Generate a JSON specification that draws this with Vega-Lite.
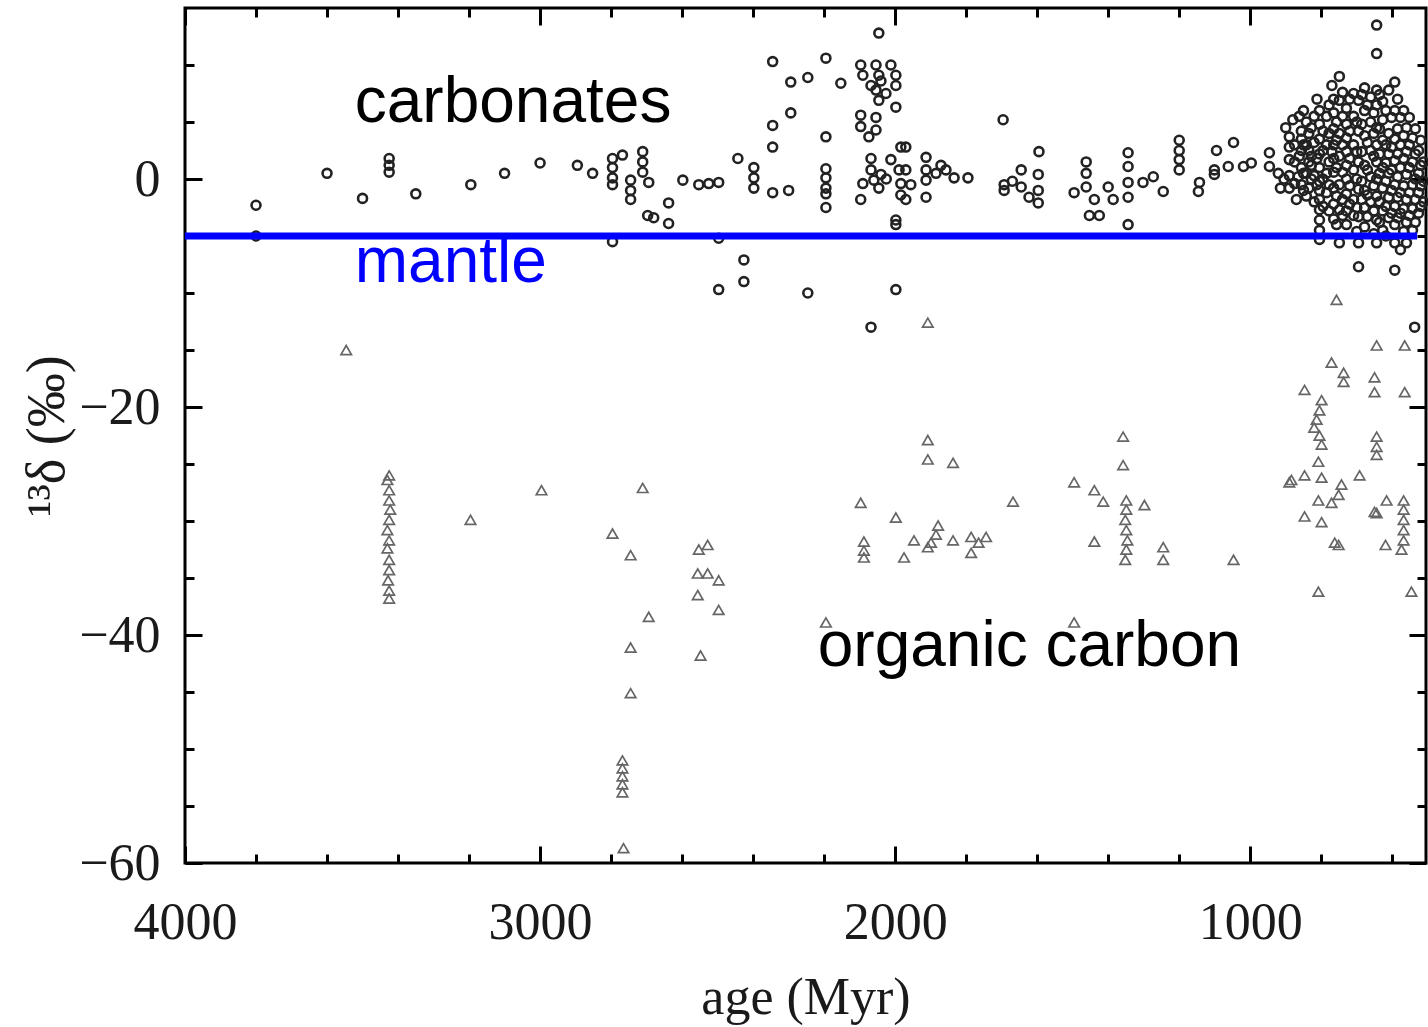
{
  "$schema": "https://vega.github.io/schema/vega-lite/v6.json",
  "width": 1241,
  "height": 855,
  "autosize": {"type": "none"},
  "padding": {"left": 185, "top": 8, "right": 2, "bottom": 164},
  "background": "white",
  "config": {"view": {"stroke": "black", "strokeWidth": 3}},
  "datasets": {
    "carbonates": [
      {"age":3800,"d13c":-2.3},{"age":3800,"d13c":-5.0},{"age":3600,"d13c":0.5},{"age":3500,"d13c":-1.7},
      {"age":3425,"d13c":1.8},{"age":3425,"d13c":1.2},{"age":3425,"d13c":0.6},{"age":3350,"d13c":-1.3},
      {"age":3195,"d13c":-0.5},{"age":3100,"d13c":0.5},{"age":3000,"d13c":1.4},{"age":2895,"d13c":1.2},
      {"age":2852,"d13c":0.5},{"age":2796,"d13c":1.8},{"age":2796,"d13c":1.0},{"age":2796,"d13c":0.1},
      {"age":2796,"d13c":-0.5},{"age":2768,"d13c":2.1},{"age":2745,"d13c":-0.1},{"age":2745,"d13c":-1.0},
      {"age":2745,"d13c":-1.8},{"age":2711,"d13c":2.4},{"age":2711,"d13c":1.5},{"age":2711,"d13c":0.6},
      {"age":2694,"d13c":-0.3},{"age":2697,"d13c":-3.2},{"age":2680,"d13c":-3.4},{"age":2638,"d13c":-2.1},
      {"age":2638,"d13c":-3.9},{"age":2796,"d13c":-5.5},{"age":2598,"d13c":-0.1},{"age":2553,"d13c":-0.5},
      {"age":2525,"d13c":-0.4},{"age":2497,"d13c":-0.3},{"age":2497,"d13c":-5.2},{"age":2443,"d13c":1.8},
      {"age":2398,"d13c":1.0},{"age":2398,"d13c":0.1},{"age":2398,"d13c":-0.8},{"age":2345,"d13c":-1.2},
      {"age":2300,"d13c":-1.0},{"age":2426,"d13c":-7.1},{"age":2426,"d13c":-9.0},{"age":2497,"d13c":-9.7},
      {"age":2246,"d13c":-10.0},{"age":2345,"d13c":10.3},{"age":2345,"d13c":4.7},{"age":2345,"d13c":2.8},
      {"age":2294,"d13c":8.5},{"age":2246,"d13c":8.9},{"age":2294,"d13c":5.8},{"age":2195,"d13c":10.6},
      {"age":2153,"d13c":8.4},{"age":2195,"d13c":3.7},{"age":2195,"d13c":0.9},{"age":2195,"d13c":0.1},
      {"age":2195,"d13c":-0.8},{"age":2195,"d13c":-1.3},{"age":2195,"d13c":-2.5},{"age":2046,"d13c":12.8},
      {"age":2097,"d13c":10.0},{"age":2054,"d13c":10.0},{"age":2012,"d13c":10.0},{"age":2091,"d13c":9.1},
      {"age":2046,"d13c":9.1},{"age":1998,"d13c":9.1},{"age":2068,"d13c":8.2},{"age":1998,"d13c":8.2},
      {"age":2026,"d13c":7.5},{"age":2040,"d13c":8.6},{"age":2054,"d13c":7.8},{"age":2046,"d13c":6.9},
      {"age":1998,"d13c":6.3},{"age":2097,"d13c":5.6},{"age":2054,"d13c":5.4},{"age":2097,"d13c":4.6},
      {"age":2054,"d13c":4.3},{"age":2074,"d13c":3.7},{"age":1984,"d13c":2.8},{"age":1970,"d13c":2.8},
      {"age":2068,"d13c":1.8},{"age":2012,"d13c":1.7},{"age":2068,"d13c":0.8},{"age":2040,"d13c":0.4},
      {"age":1989,"d13c":0.8},{"age":1970,"d13c":0.8},{"age":2091,"d13c":-0.4},{"age":2046,"d13c":-0.8},
      {"age":1984,"d13c":-0.4},{"age":1956,"d13c":-0.5},{"age":2097,"d13c":-1.8},{"age":1984,"d13c":-1.4},
      {"age":1970,"d13c":-1.8},{"age":2060,"d13c":-0.1},{"age":2025,"d13c":0.0},{"age":1998,"d13c":-3.6},
      {"age":1998,"d13c":-4.0},{"age":1998,"d13c":-9.7},{"age":2068,"d13c":-13.0},{"age":1913,"d13c":1.9},
      {"age":1913,"d13c":0.8},{"age":1913,"d13c":-0.1},{"age":1871,"d13c":1.2},{"age":1834,"d13c":0.1},
      {"age":1913,"d13c":-1.6},{"age":1885,"d13c":0.5},{"age":1857,"d13c":0.8},{"age":1795,"d13c":0.1},
      {"age":1696,"d13c":5.2},{"age":1595,"d13c":2.4},{"age":1693,"d13c":-0.5},{"age":1645,"d13c":0.8},
      {"age":1645,"d13c":-0.7},{"age":1597,"d13c":0.4},{"age":1597,"d13c":-1.0},{"age":1597,"d13c":-2.1},
      {"age":1623,"d13c":-1.6},{"age":1693,"d13c":-1.0},{"age":1670,"d13c":-0.2},{"age":1462,"d13c":1.5},
      {"age":1462,"d13c":0.5},{"age":1462,"d13c":-0.7},{"age":1496,"d13c":-1.2},{"age":1453,"d13c":-3.2},
      {"age":1425,"d13c":-3.2},{"age":1439,"d13c":-1.8},{"age":1400,"d13c":-0.7},{"age":1386,"d13c":-1.8},
      {"age":1344,"d13c":2.3},{"age":1344,"d13c":1.1},{"age":1344,"d13c":-0.3},{"age":1344,"d13c":-1.6},
      {"age":1344,"d13c":-4.0},{"age":1302,"d13c":-0.3},{"age":1273,"d13c":0.2},{"age":1245,"d13c":-1.1},
      {"age":1200,"d13c":3.4},{"age":1200,"d13c":2.5},{"age":1200,"d13c":1.7},{"age":1200,"d13c":0.8},
      {"age":1146,"d13c":-1.1},{"age":1143,"d13c":-0.3},{"age":1101,"d13c":0.4},{"age":1095,"d13c":2.5},
      {"age":1047,"d13c":3.2},{"age":1101,"d13c":0.8},{"age":1062,"d13c":1.1},{"age":1019,"d13c":1.1},
      {"age":997,"d13c":1.4},{"age":946,"d13c":2.3},{"age":946,"d13c":1.1},{"age":921,"d13c":0.5},
      {"age":890,"d13c":1.7},{"age":890,"d13c":3.7},{"age":890,"d13c":2.8},{"age":870,"d13c":-1.8},
      {"age":900,"d13c":4.5},{"age":905,"d13c":0.0},{"age":915,"d13c":-0.8},{"age":880,"d13c":5.2},
      {"age":865,"d13c":0.2},{"age":850,"d13c":-1.0},
      {"age":856,"d13c":1.0},{"age":856,"d13c":2.5},{"age":856,"d13c":3.5},{"age":856,"d13c":4.2},{"age":856,"d13c":-0.5},
      {"age":842,"d13c":5.0},{"age":842,"d13c":3.0},{"age":842,"d13c":0.5},{"age":842,"d13c":-1.5},
      {"age":828,"d13c":4.5},{"age":828,"d13c":2.0},{"age":828,"d13c":0.0},{"age":828,"d13c":1.2},
      {"age":805,"d13c":6.0},{"age":805,"d13c":4.8},{"age":805,"d13c":3.5},{"age":805,"d13c":2.2},{"age":805,"d13c":1.0},
      {"age":805,"d13c":-0.2},{"age":805,"d13c":-1.0},{"age":805,"d13c":-1.8},{"age":805,"d13c":-2.7},{"age":805,"d13c":-3.6},
      {"age":805,"d13c":-4.5},{"age":805,"d13c":-5.3},
      {"age":785,"d13c":5.5},{"age":785,"d13c":3.0},{"age":785,"d13c":0.5},{"age":785,"d13c":-1.2},
      {"age":765,"d13c":7.0},{"age":765,"d13c":5.8},{"age":765,"d13c":4.4},{"age":765,"d13c":3.0},{"age":765,"d13c":1.8},
      {"age":765,"d13c":0.6},{"age":765,"d13c":-0.8},{"age":765,"d13c":-2.2},{"age":765,"d13c":-3.5},
      {"age":749,"d13c":9.0},{"age":749,"d13c":6.9},{"age":749,"d13c":4.0},{"age":749,"d13c":2.0},{"age":749,"d13c":-0.5},
      {"age":749,"d13c":-2.7},{"age":749,"d13c":-5.6},
      {"age":729,"d13c":6.2},{"age":729,"d13c":4.8},{"age":729,"d13c":3.6},{"age":729,"d13c":2.4},{"age":729,"d13c":1.2},
      {"age":729,"d13c":0.0},{"age":729,"d13c":-1.3},{"age":729,"d13c":-2.8},{"age":729,"d13c":-4.0},
      {"age":709,"d13c":7.5},{"age":709,"d13c":5.5},{"age":709,"d13c":3.0},{"age":709,"d13c":0.8},{"age":709,"d13c":-1.8},{"age":709,"d13c":-3.2},
      {"age":695,"d13c":6.9},{"age":695,"d13c":4.2},{"age":695,"d13c":1.5},{"age":695,"d13c":-0.9},{"age":695,"d13c":-3.3},
      {"age":695,"d13c":-5.6},{"age":695,"d13c":-7.7},
      {"age":678,"d13c":8.0},{"age":678,"d13c":6.0},{"age":678,"d13c":3.8},{"age":678,"d13c":1.2},{"age":678,"d13c":-1.0},
      {"age":678,"d13c":-2.5},{"age":678,"d13c":-4.2},
      {"age":661,"d13c":7.2},{"age":661,"d13c":5.0},{"age":661,"d13c":2.5},{"age":661,"d13c":0.2},{"age":661,"d13c":-2.0},
      {"age":644,"d13c":13.5},{"age":644,"d13c":11.0},{"age":644,"d13c":7.8},{"age":644,"d13c":6.5},{"age":644,"d13c":4.5},
      {"age":644,"d13c":3.0},{"age":644,"d13c":1.5},{"age":644,"d13c":0.0},{"age":644,"d13c":-1.5},{"age":644,"d13c":-3.6},
      {"age":644,"d13c":-5.6},
      {"age":627,"d13c":6.8},{"age":627,"d13c":5.2},{"age":627,"d13c":3.4},{"age":627,"d13c":1.0},{"age":627,"d13c":-0.8},
      {"age":627,"d13c":-2.8},{"age":627,"d13c":-4.5},
      {"age":610,"d13c":7.8},{"age":610,"d13c":4.0},{"age":610,"d13c":2.2},{"age":610,"d13c":0.5},{"age":610,"d13c":-1.6},{"age":610,"d13c":-3.4},
      {"age":593,"d13c":8.5},{"age":593,"d13c":6.0},{"age":593,"d13c":3.5},{"age":593,"d13c":1.6},{"age":593,"d13c":-0.5},
      {"age":593,"d13c":-2.4},{"age":593,"d13c":-4.0},{"age":593,"d13c":-5.6},{"age":593,"d13c":-8.0},
      {"age":577,"d13c":5.4},{"age":577,"d13c":3.0},{"age":577,"d13c":1.0},{"age":577,"d13c":-1.2},{"age":577,"d13c":-3.0},{"age":577,"d13c":-6.2},
      {"age":560,"d13c":4.5},{"age":560,"d13c":2.4},{"age":560,"d13c":0.4},{"age":560,"d13c":-1.8},{"age":560,"d13c":-3.8},{"age":560,"d13c":-5.6},
      {"age":543,"d13c":3.6},{"age":543,"d13c":1.5},{"age":543,"d13c":-0.5},{"age":543,"d13c":-2.6},{"age":543,"d13c":-4.5},
      {"age":526,"d13c":2.5},{"age":526,"d13c":0.5},{"age":526,"d13c":-1.2},{"age":526,"d13c":-3.0},
      {"age":512,"d13c":1.5},{"age":512,"d13c":-0.2},{"age":512,"d13c":-2.0},
      {"age":537,"d13c":-13.0},
      {"age":890,"d13c":0.3},{"age":890,"d13c":-0.8},{"age":875,"d13c":3.0},{"age":875,"d13c":1.5},{"age":875,"d13c":-0.4},
      {"age":862,"d13c":5.5},{"age":862,"d13c":2.0},{"age":850,"d13c":3.0},{"age":850,"d13c":0.5},{"age":850,"d13c":6.0},
      {"age":835,"d13c":4.0},{"age":835,"d13c":2.5},{"age":835,"d13c":-0.8},{"age":835,"d13c":1.5},
      {"age":820,"d13c":5.5},{"age":820,"d13c":3.2},{"age":820,"d13c":0.3},{"age":820,"d13c":-2.0},
      {"age":812,"d13c":7.0},{"age":812,"d13c":1.8},{"age":812,"d13c":-0.5},
      {"age":795,"d13c":4.2},{"age":795,"d13c":2.5},{"age":795,"d13c":0.0},{"age":795,"d13c":-2.4},
      {"age":778,"d13c":6.5},{"age":778,"d13c":4.0},{"age":778,"d13c":1.5},{"age":778,"d13c":-0.5},{"age":778,"d13c":-2.8},
      {"age":770,"d13c":8.2},{"age":770,"d13c":2.4},
      {"age":757,"d13c":5.0},{"age":757,"d13c":3.4},{"age":757,"d13c":1.0},{"age":757,"d13c":-1.5},{"age":757,"d13c":-4.0},
      {"age":740,"d13c":7.6},{"age":740,"d13c":5.5},{"age":740,"d13c":3.0},{"age":740,"d13c":0.6},{"age":740,"d13c":-1.8},{"age":740,"d13c":-3.2},
      {"age":720,"d13c":7.0},{"age":720,"d13c":4.2},{"age":720,"d13c":1.8},{"age":720,"d13c":-0.6},{"age":720,"d13c":-2.2},
      {"age":700,"d13c":5.0},{"age":700,"d13c":2.4},{"age":700,"d13c":0.0},{"age":700,"d13c":-2.5},{"age":700,"d13c":-4.6},
      {"age":686,"d13c":7.4},{"age":686,"d13c":4.8},{"age":686,"d13c":2.4},{"age":686,"d13c":-0.2},{"age":686,"d13c":-1.8},
      {"age":670,"d13c":6.5},{"age":670,"d13c":3.2},{"age":670,"d13c":0.8},{"age":670,"d13c":-1.4},{"age":670,"d13c":-3.3},
      {"age":652,"d13c":5.8},{"age":652,"d13c":4.0},{"age":652,"d13c":2.0},{"age":652,"d13c":-0.6},{"age":652,"d13c":-2.8},{"age":652,"d13c":-4.8},
      {"age":636,"d13c":7.4},{"age":636,"d13c":4.4},{"age":636,"d13c":2.2},{"age":636,"d13c":0.5},{"age":636,"d13c":-2.0},{"age":636,"d13c":-3.8},
      {"age":618,"d13c":6.0},{"age":618,"d13c":3.0},{"age":618,"d13c":1.4},{"age":618,"d13c":-0.2},{"age":618,"d13c":-2.4},{"age":618,"d13c":-5.0},
      {"age":602,"d13c":5.4},{"age":602,"d13c":2.8},{"age":602,"d13c":0.8},{"age":602,"d13c":-1.0},{"age":602,"d13c":-3.0},
      {"age":585,"d13c":7.0},{"age":585,"d13c":4.4},{"age":585,"d13c":2.2},{"age":585,"d13c":0.2},{"age":585,"d13c":-1.6},{"age":585,"d13c":-3.4},
      {"age":568,"d13c":6.0},{"age":568,"d13c":3.8},{"age":568,"d13c":1.8},{"age":568,"d13c":-0.6},{"age":568,"d13c":-2.6},{"age":568,"d13c":-4.6},
      {"age":552,"d13c":5.4},{"age":552,"d13c":3.0},{"age":552,"d13c":1.0},{"age":552,"d13c":-1.2},{"age":552,"d13c":-3.2},
      {"age":535,"d13c":4.4},{"age":535,"d13c":2.2},{"age":535,"d13c":0.0},{"age":535,"d13c":-1.8},{"age":535,"d13c":-3.8},
      {"age":520,"d13c":3.4},{"age":520,"d13c":1.2},{"age":520,"d13c":-0.6},{"age":520,"d13c":-2.4}
    ],
    "organic": [
      {"age":3546,"d13c":-15.0},
      {"age":3425,"d13c":-26.0},{"age":3430,"d13c":-26.4},{"age":3425,"d13c":-27.3},{"age":3425,"d13c":-28.2},
      {"age":3422,"d13c":-29.0},{"age":3425,"d13c":-29.9},{"age":3430,"d13c":-30.8},{"age":3425,"d13c":-31.7},
      {"age":3430,"d13c":-32.4},{"age":3425,"d13c":-33.4},{"age":3425,"d13c":-34.3},{"age":3428,"d13c":-35.2},
      {"age":3425,"d13c":-36.1},{"age":3425,"d13c":-36.8},
      {"age":3196,"d13c":-29.9},{"age":2996,"d13c":-27.3},{"age":2796,"d13c":-31.1},{"age":2745,"d13c":-33.0},
      {"age":2711,"d13c":-27.1},{"age":2694,"d13c":-38.4},{"age":2745,"d13c":-41.1},{"age":2745,"d13c":-45.1},
      {"age":2768,"d13c":-51.0},{"age":2768,"d13c":-51.7},{"age":2768,"d13c":-52.4},{"age":2768,"d13c":-53.1},
      {"age":2768,"d13c":-53.8},{"age":2765,"d13c":-58.7},
      {"age":2528,"d13c":-32.1},{"age":2553,"d13c":-32.5},{"age":2556,"d13c":-34.6},{"age":2528,"d13c":-34.6},
      {"age":2497,"d13c":-35.2},{"age":2556,"d13c":-36.5},{"age":2497,"d13c":-37.8},{"age":2548,"d13c":-41.8},
      {"age":1908,"d13c":-22.9},{"age":1908,"d13c":-24.6},{"age":1837,"d13c":-24.9},{"age":2097,"d13c":-28.4},
      {"age":1998,"d13c":-29.7},{"age":2088,"d13c":-31.8},{"age":2088,"d13c":-32.6},{"age":2088,"d13c":-33.2},
      {"age":1975,"d13c":-33.2},{"age":1947,"d13c":-31.7},{"age":1899,"d13c":-31.9},{"age":1879,"d13c":-30.4},
      {"age":1885,"d13c":-31.2},{"age":1908,"d13c":-32.3},{"age":1837,"d13c":-31.7},{"age":2195,"d13c":-38.9},
      {"age":1908,"d13c":-12.6},
      {"age":1786,"d13c":-31.4},{"age":1744,"d13c":-31.4},{"age":1786,"d13c":-32.8},{"age":1765,"d13c":-31.9},
      {"age":1668,"d13c":-28.3},{"age":1496,"d13c":-26.6},{"age":1439,"d13c":-27.3},{"age":1414,"d13c":-28.3},
      {"age":1358,"d13c":-22.6},{"age":1358,"d13c":-25.1},
      {"age":1349,"d13c":-28.2},{"age":1349,"d13c":-29.0},{"age":1352,"d13c":-29.9},{"age":1349,"d13c":-30.8},
      {"age":1346,"d13c":-31.7},{"age":1349,"d13c":-32.5},{"age":1352,"d13c":-33.4},
      {"age":1298,"d13c":-28.6},{"age":1439,"d13c":-31.8},{"age":1245,"d13c":-32.3},{"age":1245,"d13c":-33.4},
      {"age":1047,"d13c":-33.4},{"age":1496,"d13c":-38.9},{"age":808,"d13c":-36.2},{"age":546,"d13c":-36.2},
      {"age":757,"d13c":-10.6},{"age":644,"d13c":-14.6},{"age":565,"d13c":-14.6},{"age":771,"d13c":-16.1},
      {"age":737,"d13c":-17.0},{"age":737,"d13c":-17.8},{"age":650,"d13c":-17.4},{"age":650,"d13c":-18.7},
      {"age":847,"d13c":-18.5},{"age":565,"d13c":-18.7},
      {"age":799,"d13c":-19.4},{"age":805,"d13c":-20.3},{"age":813,"d13c":-21.1},{"age":820,"d13c":-21.8},
      {"age":805,"d13c":-22.5},{"age":799,"d13c":-23.3},
      {"age":644,"d13c":-22.6},{"age":644,"d13c":-23.5},{"age":644,"d13c":-24.2},
      {"age":808,"d13c":-24.8},{"age":884,"d13c":-26.4},{"age":847,"d13c":-26.0},{"age":799,"d13c":-26.2},
      {"age":743,"d13c":-26.8},{"age":692,"d13c":-26.0},{"age":751,"d13c":-27.7},{"age":771,"d13c":-28.4},
      {"age":808,"d13c":-28.2},{"age":847,"d13c":-29.6},{"age":799,"d13c":-30.1},{"age":751,"d13c":-32.1},
      {"age":890,"d13c":-26.6},{"age":762,"d13c":-31.9},
      {"age":616,"d13c":-28.2},{"age":644,"d13c":-29.3},{"age":568,"d13c":-28.2},{"age":568,"d13c":-29.0},
      {"age":568,"d13c":-29.9},{"age":568,"d13c":-30.8},{"age":568,"d13c":-31.7},{"age":574,"d13c":-32.5},
      {"age":619,"d13c":-32.1},{"age":650,"d13c":-29.2}
    ],
    "mantle": [
      {"age_start":4000,"age_end":530,"d13c":-5}
    ],
    "labels": [
      {"age":3522,"d13c":5.0,"label":"carbonates"},
      {"age":3522,"d13c":-9.05,"label":"mantle"},
      {"age":2218,"d13c":-42.7,"label":"organic carbon"}
    ]
  },
  "layer": [
    {
      "data": {"name": "organic"},
      "mark": {"type": "point", "shape": "triangle-up", "filled": false, "size": 110, "strokeWidth": 1.7, "color": "#666666", "opacity": 1},
      "encoding": {
        "x": {
          "field": "age", "type": "quantitative",
          "scale": {"domain": [505, 4000], "reverse": true, "nice": false, "zero": false},
          "axis": {
            "orient": "top", "title": null, "labels": false, "domain": false, "grid": false,
            "values": [4000,3800,3600,3400,3200,3000,2800,2600,2400,2200,2000,1800,1600,1400,1200,1000,800,600],
            "tickColor": "black", "tickWidth": 3,
            "tickSize": {"condition": {"test": "datum.value % 1000 === 0", "value": -17}, "value": -9}
          }
        },
        "y": {
          "field": "d13c", "type": "quantitative",
          "scale": {"domain": [-60, 15], "nice": false, "zero": false},
          "axis": {
            "orient": "right", "title": null, "labels": false, "domain": false, "grid": false,
            "values": [-60,-55,-50,-45,-40,-35,-30,-25,-20,-15,-10,-5,0,5,10],
            "tickColor": "black", "tickWidth": 3,
            "tickSize": {"condition": {"test": "datum.value % 20 === 0", "value": -17}, "value": -9}
          }
        }
      }
    },
    {
      "data": {"name": "carbonates"},
      "mark": {"type": "point", "shape": "circle", "filled": false, "size": 80, "strokeWidth": 2.6, "color": "#222222", "opacity": 1},
      "encoding": {
        "x": {
          "field": "age", "type": "quantitative",
          "axis": {
            "orient": "bottom", "title": "age (Myr)", "domain": false, "grid": false,
            "values": [4000,3800,3600,3400,3200,3000,2800,2600,2400,2200,2000,1800,1600,1400,1200,1000,800,600],
            "format": "d",
            "labelExpr": "datum.value % 1000 === 0 ? datum.label : ''",
            "tickColor": "black", "tickWidth": 3,
            "tickSize": {"condition": {"test": "datum.value % 1000 === 0", "value": -17}, "value": -9},
            "labelFont": "Liberation Serif", "labelFontSize": 52, "labelColor": "#1a1a1a",
            "labelPadding": 51, "labelFlush": false, "labelOverlap": false,
            "titleFont": "Liberation Serif", "titleFontSize": 52, "titleFontWeight": "normal", "titleColor": "#1a1a1a",
            "titlePadding": 16
          }
        },
        "y": {
          "field": "d13c", "type": "quantitative",
          "axis": {
            "orient": "left", "title": "¹³δ (‰)", "domain": false, "grid": false,
            "values": [-60,-55,-50,-45,-40,-35,-30,-25,-20,-15,-10,-5,0,5,10],
            "format": "d",
            "labelExpr": "datum.value % 20 === 0 ? datum.label : ''",
            "tickColor": "black", "tickWidth": 3,
            "tickSize": {"condition": {"test": "datum.value % 20 === 0", "value": -17}, "value": -9},
            "labelFont": "Liberation Serif", "labelFontSize": 52, "labelColor": "#1a1a1a",
            "labelPadding": 42, "labelFlush": false, "labelOverlap": false,
            "titleFont": "Liberation Serif", "titleFontSize": 54, "titleFontWeight": "normal", "titleColor": "#1a1a1a",
            "titlePadding": 4
          }
        }
      }
    },
    {
      "data": {"name": "mantle"},
      "mark": {"type": "rule", "color": "#0000ff", "strokeWidth": 7},
      "encoding": {
        "x": {"field": "age_start", "type": "quantitative", "axis": null},
        "x2": {"field": "age_end"},
        "y": {"field": "d13c", "type": "quantitative", "axis": null}
      }
    },
    {
      "data": {"name": "labels"},
      "mark": {"type": "text", "align": "left", "baseline": "alphabetic", "font": "Liberation Sans", "fontSize": 64},
      "encoding": {
        "x": {"field": "age", "type": "quantitative", "axis": null},
        "y": {"field": "d13c", "type": "quantitative", "axis": null},
        "text": {"field": "label"},
        "color": {
          "field": "label", "type": "nominal",
          "scale": {"domain": ["carbonates", "mantle", "organic carbon"], "range": ["#000000", "#0000ff", "#000000"]},
          "legend": null
        }
      }
    }
  ],
  "resolve": {"axis": {"x": "independent", "y": "independent"}}
}
